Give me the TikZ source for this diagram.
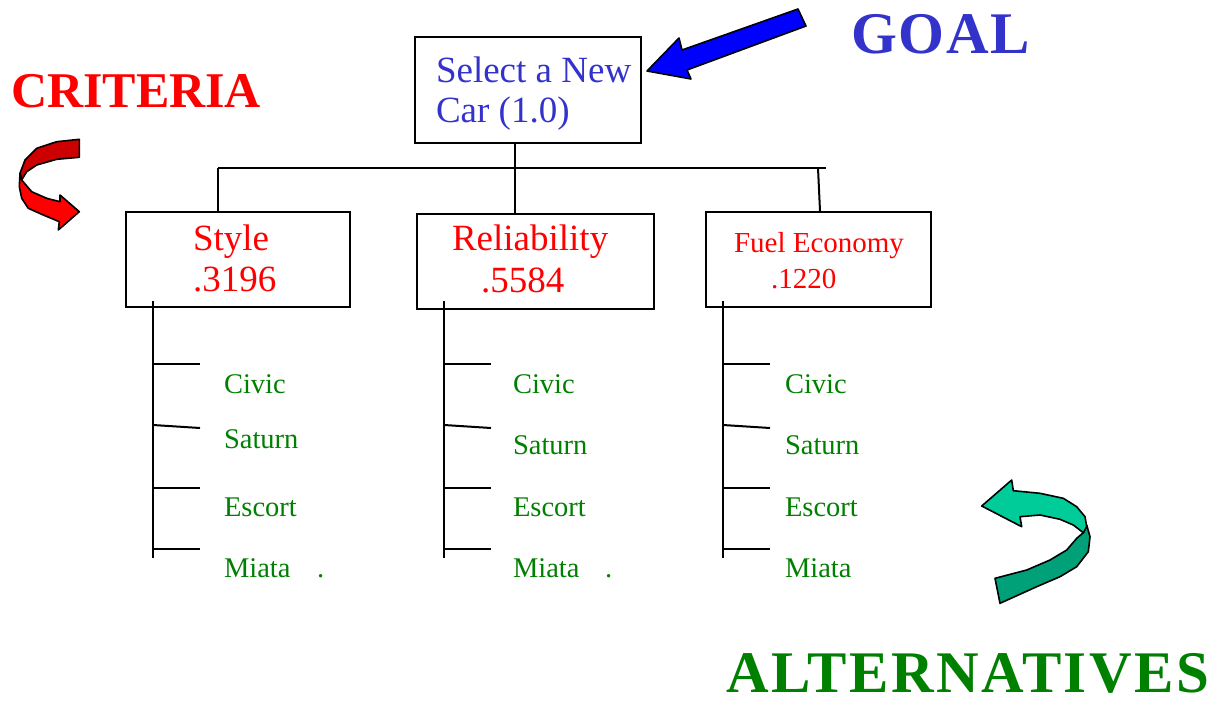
\documentclass[tikz,border=0pt]{standalone}
\usepackage{fontspec}
\setmainfont{Liberation Serif}
\definecolor{goalblue}{RGB}{51,51,204}
\definecolor{crit}{RGB}{255,0,0}
\definecolor{darkred}{RGB}{204,0,0}
\definecolor{altgreen}{RGB}{0,128,0}
\definecolor{tealL}{RGB}{0,204,153}
\definecolor{tealD}{RGB}{0,160,120}
\definecolor{arrowblue}{RGB}{0,0,255}
\begin{document}
\begin{tikzpicture}[x=1pt,y=-1pt,line width=2pt,
  box/.style={draw,line width=2.2pt,inner sep=0pt,anchor=north west},
  goaltxt/.style={anchor=base west,inner sep=0pt,text=goalblue,font=\fontsize{37}{40}\selectfont},
  crittxt/.style={anchor=base west,inner sep=0pt,text=crit,font=\fontsize{37}{40}\selectfont},
  fueltxt/.style={anchor=base west,inner sep=0pt,text=crit,font=\fontsize{29}{32}\selectfont},
  alttxt/.style={anchor=base west,inner sep=0pt,text=altgreen,font=\fontsize{28.5}{31}\selectfont},
  bigtitle/.style={anchor=base west,inner sep=0pt,font=\bfseries\fontsize{59}{62}\selectfont},
  blockarrow/.style={draw=black,line width=1.6pt,line join=round}]
\useasboundingbox (0,0) rectangle (1217,704);

% goal box
\node[box,minimum width=226pt,minimum height=106pt] (goal) at (414,36) {};
\node[goaltxt] (g1) at (435,82) {Select a New};
\node[goaltxt] (g2) at (435,122) {Car (1.0)};

% criteria boxes
\node[box,minimum width=224pt,minimum height=95pt] (style) at (125,211) {};
\node[box,minimum width=237pt,minimum height=95pt] (rel) at (416,213) {};
\node[box,minimum width=225pt,minimum height=95pt] (fuel) at (705,211) {};
\node[crittxt] (s1) at (192,250) {Style};
\node[crittxt] (s2) at (192,291) {.3196};
\node[crittxt] (r1) at (451,250) {Reliability};
\node[crittxt] (r2) at (480,292) {.5584};
\node[fueltxt] (f1) at (733,252) {Fuel Economy};
\node[fueltxt] (f2) at (770,288) {.1220};

% connectors
\coordinate (hL) at (218,168);
\coordinate (hM) at (515,168);
\coordinate (hF) at (818,168);
\coordinate (hR) at (826,168);
\draw (goal.south -| hM) -- (hM);
\draw (hL) -- (hR);
\draw (hL) -- (hL |- style.north);
\draw (hM) -- (hM |- rel.north);
\draw (hF) -- (fuel.north -| 820,0);

% alternative trees
\foreach \n/\x in {a/153,b/444,c/723}{
  \coordinate (\n top) at (\x,301);
  \coordinate (\n bot) at (\x,558);
  \draw (\n top) -- (\n bot);
  \draw (\x,364) -- +(47,0);
  \draw (\x,425) -- +(47,3);
  \draw (\x,488) -- +(47,0);
  \draw (\x,549) -- +(47,0);
}
\node[alttxt] (a1) at (223,393) {Civic};
\node[alttxt] (a2) at (223,448) {Saturn};
\node[alttxt] (a3) at (223,516) {Escort};
\node[alttxt] (a4) at (223,577) {Miata};
\node[alttxt] (ap) at (316,577) {.};
\node[alttxt] (b1) at (512,393) {Civic};
\node[alttxt] (b2) at (512,454) {Saturn};
\node[alttxt] (b3) at (512,516) {Escort};
\node[alttxt] (b4) at (512,577) {Miata};
\node[alttxt] (bp) at (604,577) {.};
\node[alttxt] (c1) at (784,393) {Civic};
\node[alttxt] (c2) at (784,454) {Saturn};
\node[alttxt] (c3) at (784,516) {Escort};
\node[alttxt] (c4) at (784,577) {Miata};

% titles
\node[bigtitle,text=crit,font=\bfseries\fontsize{50}{52}\selectfont] (crt) at (10,107) {CRITERIA};
\node[bigtitle,text=goalblue,font=\bfseries\fontsize{59}{62}\selectfont\addfontfeature{LetterSpace=2.8}] (gl) at (850,53) {GOAL};
\node[bigtitle,text=altgreen,font=\bfseries\fontsize{59}{62}\selectfont\addfontfeature{LetterSpace=4.2}] (alt) at (725,692) {ALTERNATIVES};

% blue arrow
\filldraw[blockarrow,fill=arrowblue] (647,71) -- (679,38) -- (682,50) -- (798,9) -- (806,26) -- (687,70) -- (691,79) -- cycle;

% red curled arrow
\filldraw[blockarrow,fill=darkred] (79.3,139.3) -- (56.7,141.7) -- (36.7,148.3) -- (25,160) -- (20,173.3)
  -- (21.7,180) -- (26.7,171.7) -- (36.7,165) -- (56.7,159.3) -- (79.3,157.3) -- cycle;
\filldraw[blockarrow,fill=crit] (21.7,180) -- (31.7,191.7) -- (46.7,198.3) -- (60,201.7) -- (60,195)
  -- (79.3,211.7) -- (58.3,230) -- (59.3,221.7) -- (43.3,215) -- (28.3,208.3) -- (21.7,198.3)
  -- (19.3,186.7) -- (20,173.3) -- cycle;

% green curled arrow
\filldraw[blockarrow,fill=tealD] (1086.7,525) -- (1090,536.7) -- (1088.3,551.7) -- (1076.7,566.7) -- (1060,576.7)
  -- (1036.7,586.7) -- (1000,603.3) -- (995,578.3) -- (1026.7,570) -- (1050,560) -- (1066.7,550)
  -- (1076.7,538.3) -- (1083.3,532.7) -- cycle;
\filldraw[blockarrow,fill=tealL] (981.7,506) -- (1011.7,480) -- (1013.3,490.7) -- (1040,493.3) -- (1063.3,498.3)
  -- (1076.7,506.7) -- (1085,516.7) -- (1086.7,526.7) -- (1083.3,532.7) -- (1073.3,525) -- (1060,519.3)
  -- (1040,515) -- (1020,516.7) -- (1021.7,526.7) -- cycle;
\end{tikzpicture}
\end{document}
